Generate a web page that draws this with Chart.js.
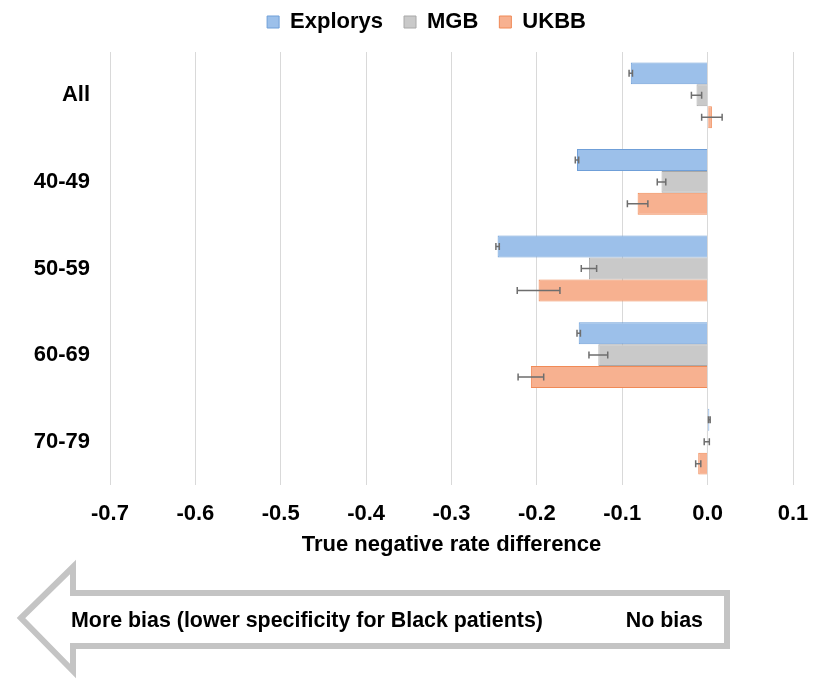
<!DOCTYPE html>
<html>
<head>
<meta charset="utf-8">
<script src="https://cdn.jsdelivr.net/npm/chart.js@4.4.1/dist/chart.umd.min.js"></script>
<style>
  body { margin: 0; background: #fff; }
  #wrap { position: relative; width: 840px; height: 683px; }
  #arrow { position: absolute; left: 0; top: 0; pointer-events: none; }
  #arrow text { font-family: "Liberation Sans", Arial, sans-serif; font-weight: bold; font-size: 21.4px; fill: #000; }
</style>
</head>
<body>
<div id="wrap">
  <canvas id="tnrChart" width="840" height="683"></canvas>
  <svg id="arrow" width="840" height="683">
    <polygon points="21,618 73,567 73,593 727,593 727,646 73,646 73,671"
             fill="#fff" stroke="#c4c4c4" stroke-width="6"/>
    <text x="71" y="627">More bias (lower specificity for Black patients)</text>
    <text x="703" y="627" text-anchor="end">No bias</text>
  </svg>
</div>
<script>
const categories = ["All", "40-49", "50-59", "60-69", "70-79"];

const explorys = [-0.090, -0.153, -0.246, -0.151, 0.002];
const explorysErr = [0.002, 0.002, 0.002, 0.002, 0.001];

const mgb = [-0.013, -0.054, -0.139, -0.128, -0.001];
const mgbErr = [0.006, 0.005, 0.009, 0.011, 0.003];

const ukbb = [0.005, -0.082, -0.198, -0.207, -0.011];
const ukbbErr = [0.012, 0.012, 0.025, 0.015, 0.003];

const font = { family: "'Liberation Sans', Arial, sans-serif", weight: "bold", size: 22 };

// whiskers drawn from the errors arrays
const errorBars = {
  id: "errorBars",
  afterDatasetsDraw(chart) {
    const ctx = chart.ctx;
    const xs = chart.scales.x;
    ctx.save();
    ctx.strokeStyle = "#6e6e6e";
    ctx.lineWidth = 1.5;
    chart.data.datasets.forEach((ds, di) => {
      chart.getDatasetMeta(di).data.forEach((bar, i) => {
        const v = ds.data[i], e = ds.errors[i];
        const x1 = xs.getPixelForValue(v - e);
        const x2 = xs.getPixelForValue(v + e);
        const y = bar.y;
        ctx.beginPath();
        ctx.moveTo(x1, y); ctx.lineTo(x2, y);
        ctx.moveTo(x1, y - 3.5); ctx.lineTo(x1, y + 3.5);
        ctx.moveTo(x2, y - 3.5); ctx.lineTo(x2, y + 3.5);
        ctx.stroke();
      });
    });
    ctx.restore();
  }
};

const legendFix = {
  id: "legendFix",
  beforeInit(chart) {
    const fit = chart.legend.fit;
    chart.legend.fit = function () {
      fit.bind(chart.legend)();
      this.height = 52;
    };
  },
  afterLayout(chart) {
    chart.legend.top -= 10;
    chart.legend.left += 30;
    chart.legend.right += 30;
  }
};

new Chart(document.getElementById("tnrChart").getContext("2d"), {
  type: "bar",
  data: {
    labels: categories,
    datasets: [
      { label: "Explorys", data: explorys, errors: explorysErr,
        backgroundColor: "#9cc0ea", borderColor: "#6f9fd8", borderWidth: 1 },
      { label: "MGB", data: mgb, errors: mgbErr,
        backgroundColor: "#c9c9c9", borderColor: "#a8a8a8", borderWidth: 1 },
      { label: "UKBB", data: ukbb, errors: ukbbErr,
        backgroundColor: "#f7b190", borderColor: "#f08a57", borderWidth: 1 }
    ]
  },
  options: {
    indexAxis: "y",
    responsive: false,
    maintainAspectRatio: false,
    animation: false,
    categoryPercentage: 0.76,
    barPercentage: 1,
    layout: { padding: { left: 0, right: 47, top: 0, bottom: 118 } },
    plugins: {
      legend: {
        position: "top",
        labels: { boxWidth: 12, boxHeight: 12, padding: 21, color: "#000", font: font }
      },
      tooltip: { enabled: false }
    },
    scales: {
      x: {
        min: -0.7,
        max: 0.1,
        ticks: {
          stepSize: 0.1,
          color: "#000",
          font: font,
          padding: 16,
          callback: v => (Math.abs(v) < 1e-9 ? 0 : v).toFixed(1)
        },
        grid: { color: "#d9d9d9", drawTicks: false },
        border: { display: false },
        title: {
          display: true,
          text: "True negative rate difference",
          color: "#000",
          font: font,
          padding: { top: 0, bottom: 7 }
        },
        afterFit: s => { s.height = 80; }
      },
      y: {
        grid: { display: false, drawTicks: false },
        border: { display: false },
        ticks: { color: "#000", font: font, padding: 20 },
        afterFit: s => { s.width = 110; }
      }
    }
  },
  plugins: [errorBars, legendFix]
});
</script>
</body>
</html>
